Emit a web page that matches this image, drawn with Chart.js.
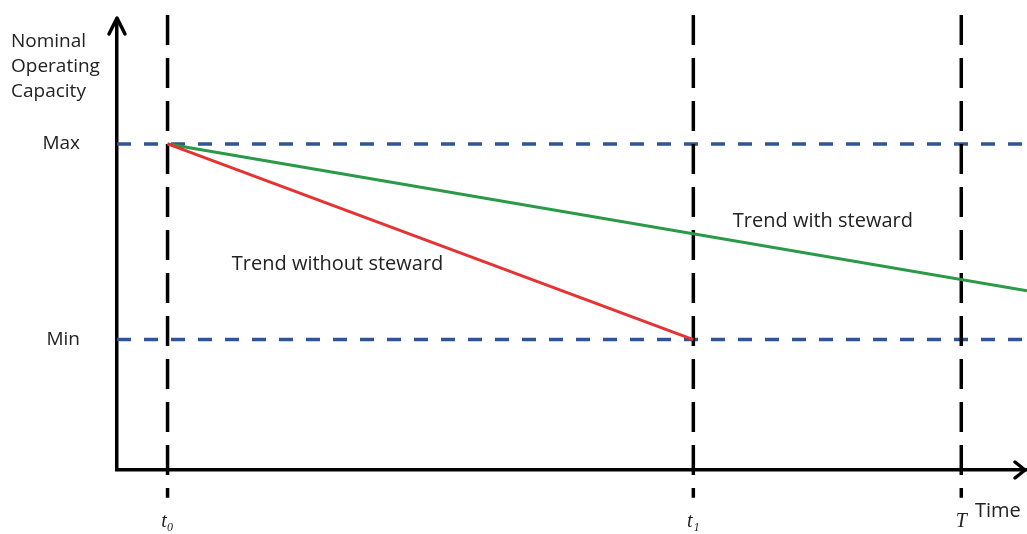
<!DOCTYPE html>
<html>
<head>
<meta charset="utf-8">
<script src="https://cdn.jsdelivr.net/npm/chart.js@4.4.1/dist/chart.umd.min.js"></script>
<style>
    html, body { margin: 0; padding: 0; background: #ffffff; }
    #capacityChart { display: block; }
</style>
</head>
<body>
<canvas id="capacityChart" width="1027" height="534"></canvas>
<script>
    "use strict";

    // Time axis (arbitrary units) and its marks
    const timeTicks = [1, 11.4, 16.7];
    const timeLabels = ['t\u2080', 't\u2081', 'T'];
    const timeMax = 18;

    // Capacity axis (share of max)
    const capacityTicks = [0.4, 1];
    const capacityLabels = ['Min', 'Max'];
    const capacityMax = 1.38;

    // Trends
    const withStewardTime = [1, 18];
    const withStewardValue = [1, 0.55];
    const withoutStewardTime = [1, 11.4];
    const withoutStewardValue = [1, 0.4];

    // Extent of the vertical guides (slightly past the axes)
    const guideTop = 1.395;
    const guideBottom = -0.085;

    const textColor = '#222222';
    const labelFont = '"Open Sans", sans-serif';

    function pairs(xs, ys) {
        return xs.map(function (x, i) { return { x: x, y: ys[i] }; });
    }

    const datasets = [];

    // Horizontal Max / Min guides
    capacityTicks.forEach(function (v) {
        datasets.push({
            data: [{ x: 0, y: v }, { x: timeMax, y: v }],
            borderColor: '#2f5597',
            borderWidth: 3.5,
            borderDash: [14, 13],
            pointRadius: 0,
            order: 3
        });
    });

    // Vertical time guides
    timeTicks.forEach(function (t) {
        datasets.push({
            data: [{ x: t, y: guideTop }, { x: t, y: guideBottom }],
            borderColor: '#000000',
            borderWidth: 3.5,
            borderDash: [30, 13],
            pointRadius: 0,
            clip: false,
            order: 2
        });
    });

    datasets.push({
        data: pairs(withStewardTime, withStewardValue),
        borderColor: '#2a9a48',
        borderWidth: 3,
        pointRadius: 0,
        order: 1
    });
    datasets.push({
        data: pairs(withoutStewardTime, withoutStewardValue),
        borderColor: '#e53333',
        borderWidth: 3,
        pointRadius: 0,
        order: 0
    });

    // Arrowheads and free text
    const decorPlugin = {
        id: 'decor',
        afterDatasetsDraw: function (chart) {
            const ctx = chart.ctx;
            const area = chart.chartArea;
            const xs = chart.scales.x;
            const ys = chart.scales.y;
            ctx.save();
            ctx.strokeStyle = '#000000';
            ctx.lineWidth = 3.5;
            ctx.lineCap = 'round';
            ctx.lineJoin = 'round';
            // y axis arrow
            ctx.beginPath();
            ctx.moveTo(area.left - 8, area.top + 14);
            ctx.lineTo(area.left, area.top - 2);
            ctx.lineTo(area.left + 8, area.top + 14);
            ctx.stroke();
            // x axis arrow
            ctx.beginPath();
            ctx.moveTo(area.right - 12, area.bottom - 8);
            ctx.lineTo(area.right - 2, area.bottom);
            ctx.lineTo(area.right - 12, area.bottom + 8);
            ctx.stroke();

            ctx.fillStyle = textColor;
            ctx.font = '19px ' + labelFont;
            ctx.textBaseline = 'alphabetic';
            ctx.textAlign = 'left';
            ['Nominal', 'Operating', 'Capacity'].forEach(function (line, i) {
                ctx.fillText(line, 11, 47 + i * 25);
            });

            ctx.font = '20px ' + labelFont;
            ctx.fillText('Time', area.right - 52, area.bottom + 47);
            ctx.fillText('Trend with steward', xs.getPixelForValue(12.18), ys.getPixelForValue(0.745));
            ctx.fillText('Trend without steward', xs.getPixelForValue(2.27), ys.getPixelForValue(0.613));
            ctx.restore();
        }
    };

    new Chart(document.getElementById('capacityChart'), {
        type: 'line',
        data: { datasets: datasets },
        plugins: [decorPlugin],
        options: {
            responsive: false,
            animation: false,
            layout: { padding: { top: 20, right: 0, bottom: 0, left: 0 } },
            plugins: {
                legend: { display: false },
                tooltip: { enabled: false }
            },
            scales: {
                x: {
                    type: 'linear',
                    min: 0,
                    max: timeMax,
                    afterBuildTicks: function (scale) {
                        scale.ticks = timeTicks.map(function (v) { return { value: v }; });
                    },
                    afterFit: function (scale) {
                        scale.height = 64;
                        scale.paddingLeft = 0;
                        scale.paddingRight = 0;
                    },
                    grid: { display: false, drawTicks: false },
                    border: { display: true, color: '#000000', width: 3.5 },
                    ticks: {
                        autoSkip: false,
                        maxRotation: 0,
                        padding: 40,
                        color: textColor,
                        font: { family: '"Liberation Serif", serif', size: 20, style: 'italic' },
                        callback: function (v) { return timeLabels[timeTicks.indexOf(v)]; }
                    }
                },
                y: {
                    type: 'linear',
                    min: 0,
                    max: capacityMax,
                    afterBuildTicks: function (scale) {
                        scale.ticks = capacityTicks.map(function (v) { return { value: v }; });
                    },
                    afterFit: function (scale) {
                        scale.width = 117;
                        scale.paddingTop = 0;
                        scale.paddingBottom = 0;
                    },
                    grid: { display: false, drawTicks: false },
                    border: { display: true, color: '#000000', width: 3.5 },
                    ticks: {
                        padding: 37,
                        color: textColor,
                        font: { family: labelFont, size: 19 },
                        callback: function (v) { return capacityLabels[capacityTicks.indexOf(v)]; }
                    }
                }
            }
        }
    });
</script>
</body>
</html>
